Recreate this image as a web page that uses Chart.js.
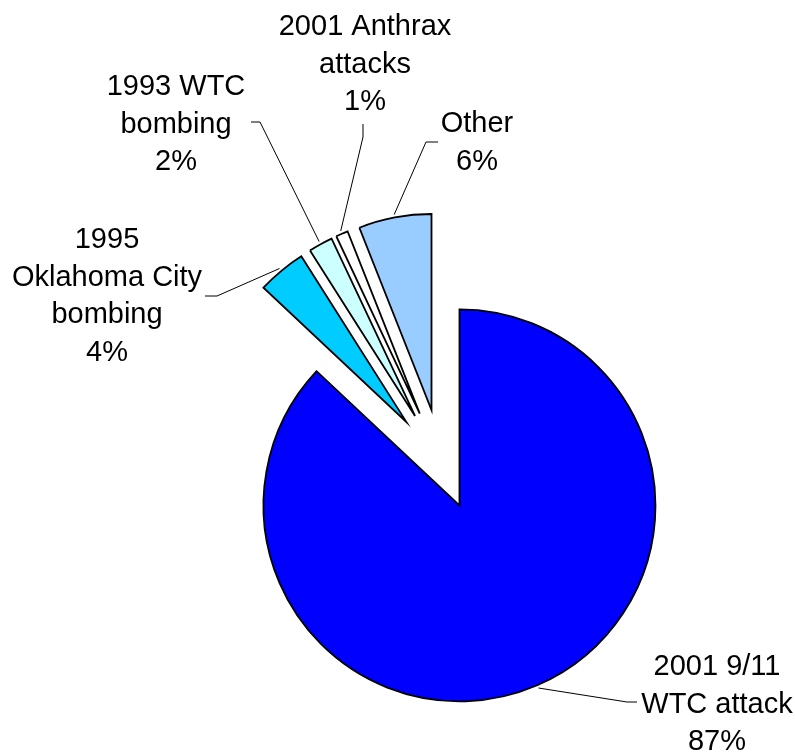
<!DOCTYPE html>
<html>
<head>
<meta charset="utf-8">
<title>Incidents</title>
<script src="https://cdn.jsdelivr.net/npm/chart.js@4.4.1/dist/chart.umd.min.js"></script>
<style>
  html, body { margin: 0; padding: 0; background: #fff; }
  #wrap { width: 795px; height: 754px; }
</style>
</head>
<body>
<div id="wrap"><canvas id="chartPie"></canvas></div>
<script>
// slices, clockwise from 12 o'clock
const categories = [
    ["2001 9/11", "WTC attack"],
    ["1995", "Oklahoma City", "bombing"],
    ["1993 WTC", "bombing"],
    ["2001 Anthrax", "attacks"],
    ["Other"]
]
const shares = [87, 4, 2, 1, 6]
const sliceColors = ["#0000ff", "#00ccff", "#ccffff", "#ffffff", "#99ccff"]

// how far each slice is pulled out of the pie along its middle angle, in px
const explodeDist = [44, 56, 56, 56, 56]

// text position (centre x, first baseline) and leader elbow/end for each label
const labelPlacement = [
    {x: 717, y: 675, path: [[627, 702], [637, 702]]},
    {x: 107, y: 248, path: [[217, 296], [205, 296]]},
    {x: 176, y: 95,  path: [[260, 122], [251, 122]]},
    {x: 365, y: 35,  path: [[363, 137], [363, 124]]},
    {x: 477, y: 132, path: [[426, 142], [438, 142]]}
]

const fontLabel = '29px "Liberation Sans", Arial, sans-serif'
const lineHeight = 37.5

function explodeVector(arc, i) {
    let mid = (arc.startAngle + arc.endAngle) / 2
    return [Math.cos(mid) * explodeDist[i], Math.sin(mid) * explodeDist[i]]
}

// chart.js' own offset also stretches and narrows the arc, so the slices are
// shifted here instead and drawn by the arc elements themselves
const explodePlugin = {
    id: "explodeSlices",
    beforeDatasetDraw(chart, args) {
        let ctx = chart.ctx
        args.meta.data.forEach((arc, i) => {
            let v = explodeVector(arc, i)
            ctx.save()
            ctx.translate(v[0], v[1])
            arc.draw(ctx)
            ctx.restore()
        })
        return false
    }
}

const labelsPlugin = {
    id: "sliceLabels",
    afterDraw(chart) {
        let ctx = chart.ctx
        let meta = chart.getDatasetMeta(0)
        ctx.save()
        ctx.strokeStyle = "#000"
        ctx.lineWidth = 1
        meta.data.forEach((arc, i) => {
            let v = explodeVector(arc, i)
            let mid = (arc.startAngle + arc.endAngle) / 2
            let r = arc.outerRadius + 3
            let ax = arc.x + v[0] + Math.cos(mid) * r
            let ay = arc.y + v[1] + Math.sin(mid) * r
            let pl = labelPlacement[i]
            ctx.beginPath()
            ctx.moveTo(ax, ay)
            pl.path.forEach(pt => ctx.lineTo(pt[0], pt[1]))
            ctx.stroke()

            ctx.fillStyle = "#000"
            ctx.font = fontLabel
            ctx.textAlign = "center"
            ctx.textBaseline = "alphabetic"
            let lines = categories[i].concat([shares[i] + "%"])
            lines.forEach((t, k) => ctx.fillText(t, pl.x, pl.y + k * lineHeight))
        })
        ctx.restore()
    }
}

let chartPie = new Chart(document.getElementById("chartPie"), {
    type: "pie",
    data: {
        labels: categories.map(c => c.join(" ")),
        datasets: [{
            data: shares,
            backgroundColor: sliceColors,
            borderColor: "#000",
            borderWidth: 1.8,
            borderJoinStyle: "miter",
            hoverOffset: 0
        }]
    },
    options: {
        responsive: true,
        maintainAspectRatio: false,
        animation: false,
        events: [],
        radius: 196,
        layout: {padding: {left: 89, right: 0, top: 176, bottom: 0}},
        plugins: {
            legend: {display: false},
            tooltip: {enabled: false}
        }
    },
    plugins: [explodePlugin, labelsPlugin]
})
</script>
</body>
</html>
